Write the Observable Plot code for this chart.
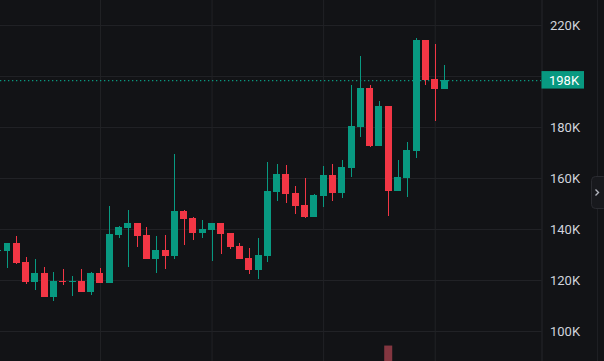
<!DOCTYPE html>
<html>
<head>
<meta charset="utf-8">
<script src="https://cdn.jsdelivr.net/npm/d3@7"></script>
<script src="https://cdn.jsdelivr.net/npm/@observablehq/plot@0.6"></script>
<style>
  html, body { margin: 0; padding: 0; background: #121316; overflow: hidden; }
  #chart { width: 604px; height: 361px; }
</style>
</head>
<body>
<div id="chart"></div>
<script>
// candle index (first one is cut by the left edge)
const idx   = [-1,0,1,2,3,4,5,6,7,8,9,10,11,12,13,14,15,16,17,18,19,20,21,22,23,24,25,26,27,28,29,30,31,32,33,34,35,36,37,38,39,40,41,42,43,44,45,46,47];
// prices in thousands
const open  = [131.4,131.5,134.5,127.05,119.2,122.75,113.3,119.6,119.2,119.6,115.3,122.75,118.8,137.6,140.4,142.4,137.6,128.2,131.8,129.4,147.1,144.3,138.4,139.6,142.4,138.4,133.3,128.6,123.9,129.4,154.5,161.6,154.1,149.4,144.7,152.9,161.2,154.1,163.9,180.0,195.3,172.5,188.2,154.9,160.0,170.6,214.1,198.8,194.9];
const high  = [131.9,134.5,137.3,129.0,128.2,125.1,123.1,124.3,121.6,124.3,123.1,124.7,149.0,141.2,147.5,142.4,140.8,137.3,137.6,169.4,147.5,144.7,143.5,142.4,142.4,138.4,134.5,132.5,136.5,166.3,165.5,165.1,156.9,160.0,153.7,164.7,165.5,167.1,196.5,207.8,196.5,190.2,188.2,167.1,174.1,214.9,214.1,212.5,204.3];
const low   = [131.3,124.8,126.3,118.4,116.1,113.3,111.8,118.0,113.7,115.3,114.1,118.8,118.8,136.5,125.1,133.0,128.2,122.75,124.3,128.2,133.7,135.7,136.5,127.45,130.2,132.2,128.2,122.35,120.4,127.05,151.0,150.2,145.9,144.3,144.7,148.6,151.0,152.2,160.4,176.1,172.2,172.5,145.1,154.9,152.5,167.8,196.5,182.3,194.9];
const close = [131.8,134.5,126.7,119.2,122.75,113.3,119.6,119.2,119.6,115.3,122.75,118.8,138.0,140.8,142.4,137.3,128.2,131.8,129.4,147.1,143.9,138.4,140.0,142.4,138.0,133.0,128.2,123.9,129.8,154.9,161.6,153.7,149.0,144.7,153.3,161.2,154.1,164.3,180.4,195.3,172.5,188.2,154.9,160.4,171.0,214.1,198.4,194.9,198.4];
// the one volume bar that rises into view (price units of the lower pane)
const volumeIdx = [41];
const volumeTop = [94.3];
// axis ticks
const yTicks = [100,120,140,160,180,200,220];
const yTickLabels = ["100K","120K","140K","160K","180K","200K","220K"];
const timeGridIdx = [10,22,34,46];
const lastPrice = 198.4;
const lastPriceLabel = "198K";

const GREEN = "#089981", RED = "#f23645";
const candles = idx.map((i, k) => ({i, open: open[k], high: high[k], low: low[k], close: close[k]}));
const vols = volumeIdx.map((i, k) => ({i, top: volumeTop[k]}));
const half = 0.376;
const xDomain = [-0.7528, 57.485];
const yDomain = [88.24, 229.8];

const chart = Plot.plot({
  width: 604,
  height: 361,
  marginLeft: 0,
  marginRight: 62.5,
  marginTop: 0,
  marginBottom: 0,
  style: {background: "#121316", color: "#d1d4dc", fontFamily: "Roboto, 'Liberation Sans', sans-serif", fontSize: "13px"},
  x: {type: "linear", domain: xDomain, axis: null},
  y: {domain: yDomain, axis: "right", ticks: yTicks, tickFormat: d => yTickLabels[yTicks.indexOf(d)], tickSize: 0, tickPadding: 8, label: null},
  color: {type: "identity"},
  marks: [
    Plot.ruleY(yTicks, {stroke: "#212226", strokeWidth: 1}),
    Plot.ruleX(timeGridIdx, {stroke: "#212226", strokeWidth: 1}),
    Plot.ruleY([lastPrice], {stroke: GREEN, strokeDasharray: "1.3,2.7", strokeWidth: 1.2}),
    Plot.rect(vols, {x1: d => d.i - 0.43, x2: d => d.i + 0.43, y1: yDomain[0], y2: "top", fill: "#833640"}),
    Plot.ruleX(candles, {x: "i", y1: "low", y2: "high", stroke: d => d.close >= d.open ? GREEN : RED, strokeWidth: 1, clip: true, shapeRendering: "crispEdges"}),
    Plot.rect(candles, {x1: d => d.i - half, x2: d => d.i + half, y1: "open", y2: d => Math.abs(d.close - d.open) < 0.4 ? d.open + (d.close >= d.open ? 0.4 : -0.4) : d.close, fill: d => d.close >= d.open ? GREEN : RED, clip: true, shapeRendering: "crispEdges"}),
    Plot.ruleX([xDomain[1]], {stroke: "#25262b", strokeWidth: 1})
  ]
});
document.getElementById("chart").appendChild(chart);

// last-price tag, right edge separator and collapse button
const svg = d3.select(chart);
const ys = chart.scale("y");
const yp = ys.apply(lastPrice);
svg.append("line").attr("x1", 597.5).attr("x2", 597.5).attr("y1", 0).attr("y2", 361).attr("stroke", "#1e1f23");
const tag = svg.append("g");
tag.append("rect").attr("x", 541.5).attr("y", yp - 9).attr("width", 42.5).attr("height", 17.5).attr("fill", GREEN);
tag.append("text").attr("x", 549).attr("y", yp).attr("dy", "0.36em").attr("fill", "#ffffff")
  .attr("text-anchor", "start")
  .style("font-size", "13px").style("font-family", "Roboto, 'Liberation Sans', sans-serif").text(lastPriceLabel);
const btn = svg.append("g");
btn.append("rect").attr("x", 591.5).attr("y", 176.5).attr("width", 16).attr("height", 32).attr("rx", 4)
  .attr("fill", "#18191d").attr("stroke", "#2a2b30");
btn.append("path").attr("d", "M595.5,189.5 L598.5,192.5 L595.5,195.5").attr("fill", "none").attr("stroke", "#b2b5be").attr("stroke-width", 1.4);
</script>
</body>
</html>
